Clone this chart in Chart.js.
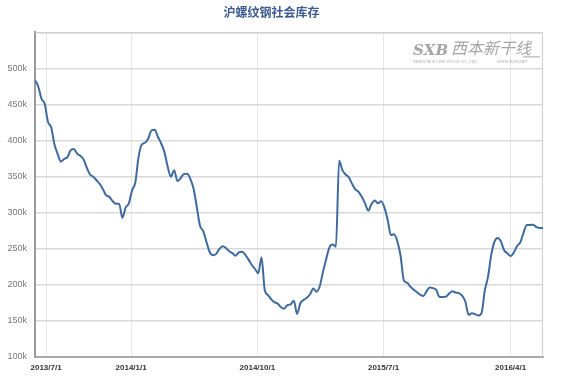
<!DOCTYPE html>
<html>
<head>
<meta charset="utf-8">
<script src="https://cdn.jsdelivr.net/npm/chart.js@4.4.1/dist/chart.umd.min.js"></script>
<style>
  html, body { margin: 0; padding: 0; background: #fff; }
  #wrap { width: 563px; height: 381px; }
</style>
</head>
<body>
<div id="wrap"><canvas id="stock_chart"></canvas></div>
<script>
// weekly report dates (fridays)
const weeks = [
  '2013/6/7','2013/6/14','2013/6/21','2013/6/28','2013/7/5','2013/7/12','2013/7/19','2013/7/26',
  '2013/8/2','2013/8/9','2013/8/16','2013/8/23','2013/8/30','2013/9/6','2013/9/13','2013/9/20',
  '2013/9/27','2013/10/4','2013/10/11','2013/10/18','2013/10/25','2013/11/1','2013/11/8','2013/11/15',
  '2013/11/22','2013/11/29','2013/12/6','2013/12/13','2013/12/20','2013/12/27',
  '2014/1/3','2014/1/10','2014/1/17','2014/1/24','2014/1/31','2014/2/7','2014/2/14','2014/2/21',
  '2014/2/28','2014/3/7','2014/3/14','2014/3/21','2014/3/28','2014/4/4','2014/4/11','2014/4/18',
  '2014/4/25','2014/5/2','2014/5/9','2014/5/16','2014/5/23','2014/5/30','2014/6/6','2014/6/13',
  '2014/6/20','2014/6/27','2014/7/4','2014/7/11','2014/7/18','2014/7/25','2014/8/1','2014/8/8',
  '2014/8/15','2014/8/22','2014/8/29','2014/9/5','2014/9/12','2014/9/19','2014/9/26','2014/10/3',
  '2014/10/10','2014/10/17','2014/10/24','2014/10/31','2014/11/7','2014/11/14','2014/11/21','2014/11/28',
  '2014/12/5','2014/12/12','2014/12/19','2014/12/26',
  '2015/1/2','2015/1/9','2015/1/16','2015/1/23','2015/1/30','2015/2/6','2015/2/13','2015/2/20',
  '2015/2/27','2015/3/6','2015/3/13','2015/3/20','2015/3/27','2015/4/3','2015/4/10','2015/4/17',
  '2015/4/24','2015/5/1','2015/5/8','2015/5/15','2015/5/22','2015/5/29','2015/6/5','2015/6/12',
  '2015/6/19','2015/6/26','2015/7/3','2015/7/10','2015/7/17','2015/7/24','2015/7/31','2015/8/7',
  '2015/8/14','2015/8/21','2015/8/28','2015/9/4','2015/9/11','2015/9/18','2015/9/25','2015/10/2',
  '2015/10/9','2015/10/16','2015/10/23','2015/10/30','2015/11/6','2015/11/13','2015/11/20','2015/11/27',
  '2015/12/4','2015/12/11','2015/12/18','2015/12/25',
  '2016/1/1','2016/1/8','2016/1/15','2016/1/22','2016/1/29','2016/2/5','2016/2/12','2016/2/19',
  '2016/2/26','2016/3/4','2016/3/11','2016/3/18','2016/3/25','2016/4/1','2016/4/8','2016/4/15',
  '2016/4/22','2016/4/29','2016/5/6','2016/5/13','2016/5/20','2016/5/27','2016/6/3','2016/6/10'
];

// rebar stock, thousand tons
const stock = [
  483.7, 475, 458, 451, 426, 418.5, 395, 381.5, 371, 374.5, 377, 386.5, 388.5, 382, 379, 374,
  362.5, 353, 350, 345, 340, 332.5, 324, 322, 316, 312.5, 312.5, 293, 307, 313,
  331, 342, 377, 394.5, 397, 403, 414, 415, 405, 396, 384, 364, 350, 359, 344, 348,
  353.5, 354, 347, 333.5, 308, 282, 274.5, 259.5, 245.5, 241, 243, 250, 253.5, 251, 246.5, 244,
  240.5, 245, 246, 241.5, 235, 227.5, 222, 216, 238, 193, 186, 180, 176, 174, 169, 167,
  172, 173, 178, 159.5,
  174.5, 179, 182, 187, 195, 190.5, 198, 218, 236, 252, 256, 253, 372, 359, 353, 349,
  340, 332.5, 329, 322, 313, 303, 312, 317, 313, 316, 307, 290, 269, 270, 260, 240,
  206, 203, 197.5, 193.5, 190, 186.5, 184.5, 191, 196.5, 195.5, 193, 183.3, 183.3, 183.5, 188, 191,
  189.3, 188.6, 185, 177,
  158.5, 160.5, 159.5, 157.5, 160.6, 192, 211, 241.5, 260, 265, 260, 248, 243.7, 240, 245, 254,
  259, 272.5, 283, 283, 283.5, 280, 278.7, 278.7
];

const xTickLabels = ['2013/7/1', '2014/1/1', '2014/10/1', '2015/7/1', '2016/4/1'];
const yMin = 100;
const yMax = 550;
const yStep = 50;

// date string -> day number, so the x axis is a real time line
function dayNum (s) {
    const [y, m, d] = s.split('/').map(Number);
    return Date.UTC(y, m - 1, d) / 86400000;
}

const points = weeks.map((w, i) => ({x: dayNum(w), y: stock[i]}));

// light frame on top and right of the plot
const framePlugin = {
    id: 'frame',
    beforeDatasetsDraw (chart) {
        const {ctx, chartArea: a} = chart;
        ctx.save();
        ctx.strokeStyle = '#cfcfcf';
        ctx.lineWidth = 1;
        ctx.beginPath();
        ctx.moveTo(a.left, a.top + 0.5);
        ctx.lineTo(a.right - 0.5, a.top + 0.5);
        ctx.lineTo(a.right - 0.5, a.bottom);
        ctx.stroke();
        ctx.restore();
    }
};

// company watermark, top right
const watermarkPlugin = {
    id: 'watermark',
    beforeDatasetsDraw (chart) {
        const {ctx, chartArea: a} = chart;
        ctx.save();
        ctx.fillStyle = '#a5a5a5';
        ctx.textBaseline = 'alphabetic';
        ctx.font = 'bold italic 15px "DejaVu Serif"';
        ctx.fillText('SXB', a.right - 130, a.top + 23);
        ctx.font = 'italic 16px "Noto Sans CJK SC"';
        ctx.fillText('西本新干线', a.right - 92, a.top + 22);
        ctx.strokeStyle = '#a5a5a5';
        ctx.lineWidth = 1;
        ctx.beginPath();
        ctx.moveTo(a.right - 20, a.top + 24.5);
        ctx.lineTo(a.right - 3, a.top + 24.5);
        ctx.stroke();
        ctx.font = '4px "Liberation Serif"';
        ctx.fillText('XIBEN NEW LINE STOCK CO., LTD.', a.right - 130, a.top + 31);
        ctx.fillText('WWW.96369.NET', a.right - 46, a.top + 31);
        ctx.restore();
    }
};

new Chart(document.getElementById('stock_chart'), {
    type: 'line',
    data: {
        datasets: [{
            label: '沪螺纹钢社会库存',
            data: points,
            borderColor: '#3f6a9e',
            borderWidth: 2,
            pointRadius: 0,
            fill: false,
            cubicInterpolationMode: 'monotone'
        }]
    },
    options: {
        responsive: true,
        maintainAspectRatio: false,
        animation: false,
        layout: {padding: {left: 0, right: 20, top: 0, bottom: 0}},
        plugins: {
            legend: {display: false},
            tooltip: {enabled: false},
            title: {
                display: true,
                text: '沪螺纹钢社会库存',
                color: '#3d5b92',
                font: {family: '"Noto Sans CJK SC"', size: 12, weight: 'bold'},
                padding: {top: 5, bottom: 13}
            }
        },
        scales: {
            x: {
                type: 'linear',
                min: dayNum(weeks[0]),
                max: dayNum(weeks[weeks.length - 1]),
                afterBuildTicks: scale => {
                    scale.ticks = xTickLabels.map(d => ({value: dayNum(d)}));
                },
                afterFit: scale => { scale.height = 24; },
                grid: {color: '#e6e6e6', lineWidth: 1, drawTicks: false},
                border: {color: '#a8a8a8', width: 2},
                ticks: {
                    autoSkip: false,
                    maxRotation: 0,
                    padding: 6,
                    color: '#333',
                    font: {family: '"Liberation Sans"', size: 8, weight: 'bold'},
                    callback: (v, i) => xTickLabels[i]
                }
            },
            y: {
                min: yMin,
                max: yMax,
                afterFit: scale => { scale.width = 35; },
                grid: {color: '#d9d9d9', lineWidth: 1.5, drawTicks: false},
                border: {color: '#9a9a9a', width: 2},
                ticks: {
                    stepSize: yStep,
                    padding: 8,
                    color: '#777',
                    font: {family: '"Liberation Sans"', size: 9},
                    callback: v => v === yMax ? '' : v + 'k'
                }
            }
        }
    },
    plugins: [framePlugin, watermarkPlugin]
});
</script>
</body>
</html>
